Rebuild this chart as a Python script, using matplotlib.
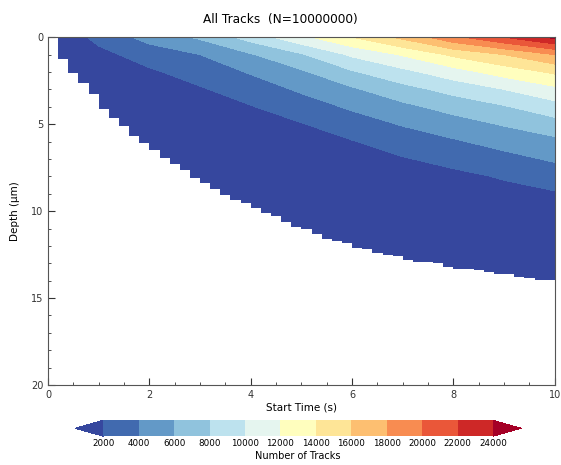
import numpy as np
import matplotlib.pyplot as plt
from matplotlib.colors import ListedColormap
from matplotlib.ticker import MultipleLocator

# start time (s) and depth (um) of the count grid
start_time = [0, 1, 2, 3, 4, 5, 6, 7, 8, 9, 10]
depth = [0, 1, 2, 3, 4, 5, 6, 7, 8, 9, 10, 11, 12, 13, 14]

# number of tracks, one row per start time, going down in depth
tracks = [
    [0, 0, 0, 0, 0, 0, 0, 0, 0, 0, 0, 0, 0, 0, 0],
    [2600, 1400, 900, 450, 150, 0, 0, 0, 0, 0, 0, 0, 0, 0, 0],
    [4700, 2920, 1700, 1100, 700, 400, 200, 60, 0, 0, 0, 0, 0, 0, 0],
    [6300, 4000, 2860, 1800, 1200, 750, 450, 250, 100, 30, 0, 0, 0, 0, 0],
    [8800, 5830, 4170, 2970, 1900, 1200, 750, 450, 250, 100, 30, 0, 0, 0, 0],
    [11500, 7780, 5710, 4290, 3060, 1900, 1200, 750, 450, 250, 100, 30, 0, 0, 0],
    [14000, 10330, 7780, 5710, 4290, 3060, 1900, 1200, 750, 450, 250, 100, 30, 0, 0],
    [16500, 12180, 9440, 7300, 5520, 4140, 2970, 1850, 1200, 750, 450, 250, 100, 0, 0],
    [19500, 14400, 11140, 8670, 6730, 5140, 3770, 2630, 1500, 950, 600, 350, 200, 60, 0],
    [22000, 16000, 12860, 10000, 7830, 6170, 4710, 3390, 2180, 1400, 900, 550, 300, 120, 0],
    [24500, 18000, 14330, 11500, 9200, 7200, 5500, 4250, 3000, 1800, 1200, 800, 450, 200, 60],
]

# deepest non-empty depth for each 0.2 s start-time bin (0 = empty bin)
max_depth = [0, 1.25, 2.05, 2.65, 3.28, 4.1, 4.65, 5.1, 5.7, 6.1,
             6.5, 6.95, 7.3, 7.65, 8.1, 8.4, 8.75, 9.1, 9.35, 9.55,
             9.8, 10.1, 10.3, 10.6, 10.9, 11.0, 11.3, 11.6, 11.7, 11.85,
             12.1, 12.2, 12.4, 12.5, 12.6, 12.8, 12.9, 12.95, 13.0, 13.2,
             13.3, 13.35, 13.4, 13.5, 13.6, 13.6, 13.8, 13.85, 13.95, 13.95]

levels = [2000, 4000, 6000, 8000, 10000, 12000, 14000, 16000, 18000, 20000, 22000, 24000]

counts = np.array(tracks).T
bin_edges = np.linspace(0, 10, len(max_depth) + 1)

# evenly spaced colours: under, 11 bands, over
base = plt.get_cmap("RdYlBu_r")
n_bands = len(levels) - 1
cmap = ListedColormap([base((i + 1) / (n_bands + 1)) for i in range(n_bands)])
cmap.set_under(base(0.03))
cmap.set_over(base(1.0))

fig = plt.figure(figsize=(5.61, 4.65), dpi=100)
ax = fig.add_axes([0.0856, 0.172, 0.9034, 0.748])

cs = ax.contourf(start_time, depth, counts, levels=levels, cmap=cmap, extend="both")

# empty bins are left blank
ax.fill_between(bin_edges, np.append(max_depth, max_depth[-1]), 20,
                step="post", color="white", lw=0, zorder=1.5)

ax.set_xlim(0, 10)
ax.set_ylim(20, 0)
ax.xaxis.set_major_locator(MultipleLocator(2))
ax.xaxis.set_minor_locator(MultipleLocator(0.5))
ax.yaxis.set_major_locator(MultipleLocator(5))
ax.yaxis.set_minor_locator(MultipleLocator(1))
ax.tick_params(which="both", direction="in", top=False, right=False,
               labelsize=7, colors="#333333")
ax.tick_params(which="major", length=5, width=0.8)
ax.tick_params(which="minor", length=2.5, width=0.6)
for sp in ax.spines.values():
    sp.set_color("#555555")
    sp.set_linewidth(0.8)

ax.set_xlabel("Start Time (s)", fontsize=7.5, labelpad=2)
ax.set_ylabel("Depth (\u03bcm)", fontsize=7.5, labelpad=8)
fig.suptitle("All Tracks  (N=10000000)", fontsize=8.7, y=0.972)

cax = fig.add_axes([0.134, 0.062, 0.795, 0.034])
cb = fig.colorbar(cs, cax=cax, orientation="horizontal", extendfrac=0.072,
                  ticks=levels, drawedges=False)
cb.outline.set_visible(False)
cb.ax.tick_params(length=0, labelsize=6.3, pad=2)
cb.set_label("Number of Tracks", fontsize=7, labelpad=2)

plt.savefig("out.png", dpi=100)
